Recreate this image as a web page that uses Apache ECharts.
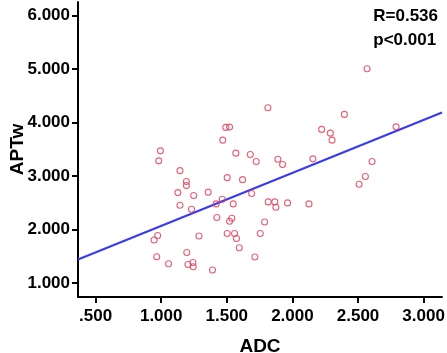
<!DOCTYPE html>
<html>
<head>
<meta charset="utf-8">
<script src="https://cdn.jsdelivr.net/npm/echarts@6/dist/echarts.min.js"></script>
<style>
  html, body { margin: 0; padding: 0; background: #fff; }
  #chart { width: 447px; height: 353px; }
</style>
</head>
<body>
<div id="chart"></div>
<script>
// ADC values (x) per case
const adc = [
  0.973, 0.946, 0.966, 1.056, 1.195, 1.204, 1.242, 1.244, 1.288, 1.127,
  1.143, 0.994, 0.981, 1.143, 1.813, 1.492, 1.521, 1.469, 1.569, 1.679,
  1.724, 1.889, 1.925, 1.192, 1.192, 1.503, 1.620, 1.248, 1.358, 1.465,
  1.689, 1.231, 1.419, 1.549, 1.816, 1.866, 1.874, 1.963, 1.424, 1.538,
  1.521, 1.788, 1.503, 1.559, 1.574, 1.755, 1.595, 1.714, 1.391, 2.569,
  2.396, 2.223, 2.289, 2.302, 2.790, 2.156, 2.607, 2.556, 2.508, 2.126
];
// APTw values (y) per case
const aptw = [
  1.888, 1.805, 1.491, 1.360, 1.571, 1.345, 1.384, 1.303, 1.878, 2.691,
  2.455, 3.472, 3.285, 3.101, 4.277, 3.910, 3.916, 3.672, 3.429, 3.404,
  3.273, 3.316, 3.217, 2.899, 2.824, 2.970, 2.933, 2.637, 2.699, 2.567,
  2.674, 2.380, 2.479, 2.479, 2.517, 2.517, 2.418, 2.498, 2.225, 2.212,
  2.155, 2.142, 1.925, 1.925, 1.831, 1.927, 1.659, 1.485, 1.243, 5.007,
  4.154, 3.873, 3.803, 3.672, 3.921, 3.322, 3.273, 2.993, 2.848, 2.479
];
// fitted line end points
const fitX = [0.366, 3.14];
const fitY = [1.438, 4.19];

const xTicks = [0.5, 1.0, 1.5, 2.0, 2.5, 3.0];
const yTicks = [1, 2, 3, 4, 5, 6];
const statText = ['R=0.536', 'p<0.001'];

const fmt = (v) => {
  const s = Number(v).toFixed(3);
  return s.startsWith('0.') ? s.slice(1) : s;
};

const font = 'Liberation Sans, Arial, sans-serif';
const chart = echarts.init(document.getElementById('chart'));

chart.setOption({
  animation: false,
  backgroundColor: '#fff',
  grid: { left: 78, right: 5, top: 2, bottom: 56, outerBoundsMode: 'none', containLabel: false },
  xAxis: {
    type: 'value',
    min: 0.366,
    max: 3.14,
    name: 'ADC',
    nameLocation: 'middle',
    nameGap: 40,
    nameMoveOverlap: false,
    nameTextStyle: { fontFamily: font, fontWeight: 'bold', fontSize: 19, color: '#000' },
    axisLine: { onZero: false, lineStyle: { color: '#000', width: 2 } },
    axisTick: { customValues: xTicks, length: 6, lineStyle: { color: '#000', width: 2 } },
    axisLabel: {
      customValues: xTicks,
      formatter: fmt,
      margin: 11,
      fontFamily: font, fontWeight: 'bold', fontSize: 17, color: '#000'
    },
    splitLine: { show: false }
  },
  yAxis: {
    type: 'value',
    min: 0.738,
    max: 6.256,
    name: 'APTw',
    nameLocation: 'middle',
    nameGap: 51,
    nameMoveOverlap: false,
    nameTextStyle: { fontFamily: font, fontWeight: 'bold', fontSize: 19, color: '#000' },
    axisLine: { onZero: false, lineStyle: { color: '#000', width: 2 } },
    axisTick: { customValues: yTicks, length: 6, lineStyle: { color: '#000', width: 2 } },
    axisLabel: {
      customValues: yTicks,
      formatter: fmt,
      margin: 8,
      fontFamily: font, fontWeight: 'bold', fontSize: 17, color: '#000'
    },
    splitLine: { show: false }
  },
  graphic: [
    {
      type: 'text', right: 9, top: 4,
      style: { text: statText.join('\n'), fontFamily: font, fontWeight: 'bold',
               fontSize: 17, lineHeight: 24, fill: '#000', align: 'left' }
    }
  ],
  series: [
    {
      type: 'line',
      data: fitX.map((x, i) => [x, fitY[i]]),
      showSymbol: false,
      lineStyle: { color: '#3a3af0', width: 2.2 },
      z: 2
    },
    {
      type: 'scatter',
      data: adc.map((x, i) => [x, aptw[i]]),
      symbol: 'circle',
      symbolSize: 6,
      itemStyle: { color: 'rgba(255,255,255,0)', borderColor: '#e03a55', borderWidth: 1.1 },
      z: 3
    }
  ]
});
</script>
</body>
</html>
